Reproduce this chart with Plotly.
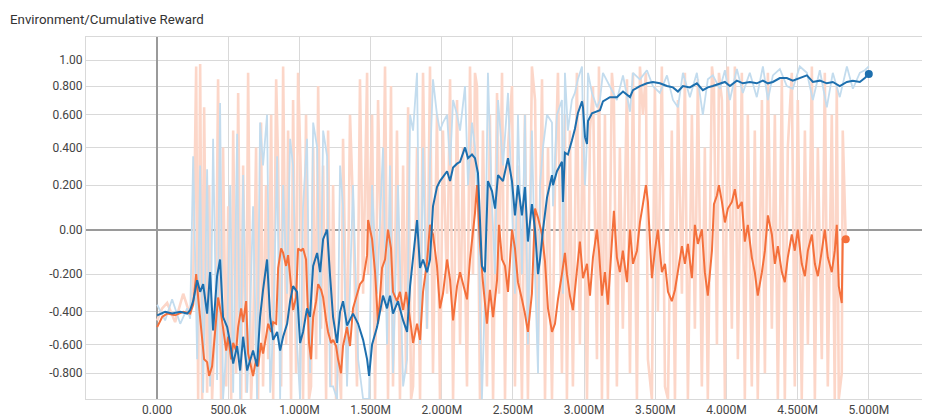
import numpy as np
import plotly.graph_objects as go

# ---------------- data (steps in thousands) ----------------
blue_steps = [
    0, 56, 105, 162, 211, 232, 253, 281, 302, 323,
    351, 372, 393, 421, 442, 463, 492, 513, 534, 562,
    583, 604, 632, 653, 674, 702, 723, 744, 772, 794,
    815, 843, 864, 885, 913, 934, 955, 983, 1004, 1025,
    1053, 1074, 1096, 1124, 1145, 1166, 1194, 1215, 1236, 1264,
    1285, 1306, 1334, 1376, 1412, 1447, 1475, 1489, 1510, 1545,
    1587, 1615, 1636, 1657, 1692, 1728, 1756, 1777, 1798, 1826,
    1847, 1868, 1896, 1917, 1938, 1966, 1987, 2008, 2037, 2058,
    2079, 2107, 2128, 2163, 2184, 2212, 2233, 2254, 2282, 2303,
    2324, 2353, 2374, 2395, 2430, 2465, 2493, 2514, 2535, 2563,
    2584, 2605, 2633, 2655, 2676, 2690, 2711, 2739, 2774, 2781,
    2809, 2844, 2851, 2865, 2886, 2914, 2935, 2956, 2985, 2992,
    3006, 3020, 3027, 3055, 3090, 3111, 3132, 3181, 3230, 3273,
    3322, 3343, 3392, 3441, 3483, 3532, 3582, 3624, 3659, 3694,
    3743, 3792, 3834, 3869, 3904, 3954, 3989, 4024, 4073, 4115,
    4164, 4213, 4256, 4291, 4326, 4375, 4424, 4466, 4515, 4565,
    4607, 4656, 4705, 4747, 4796, 4846, 4888, 4937, 4972, 5000,
]
blue_smooth = [
    -0.42, -0.40, -0.41, -0.40, -0.41, -0.39, -0.34, -0.23, -0.29, -0.25,
    -0.41, -0.19, -0.51, -0.21, -0.13, -0.43, -0.49, -0.59, -0.73, -0.61,
    -0.78, -0.55, -0.78, -0.71, -0.64, -0.75, -0.43, -0.28, -0.13, -0.43,
    -0.57, -0.52, -0.64, -0.55, -0.47, -0.34, -0.26, -0.29, -0.59, -0.52,
    -0.38, -0.43, -0.16, -0.10, -0.19, -0.04, 0.0, -0.21, -0.43, -0.59,
    -0.40, -0.34, -0.48, -0.41, -0.47, -0.57, -0.70, -0.82, -0.60, -0.49,
    -0.31, -0.38, -0.31, -0.41, -0.34, -0.45, -0.52, -0.26, -0.11, 0.04,
    -0.17, -0.13, -0.19, -0.13, 0.10, 0.19, 0.22, 0.24, 0.27, 0.22,
    0.29, 0.31, 0.32, 0.40, 0.34, 0.36, 0.34, 0.26, -0.16, -0.19,
    0.22, 0.17, 0.09, 0.25, 0.22, 0.34, 0.22, 0.06, 0.20, 0.06,
    0.19, -0.05, 0.11, 0.0, -0.20, -0.13, 0.0, 0.14, 0.25, 0.20,
    0.27, 0.32, 0.12, 0.37, 0.36, 0.44, 0.51, 0.61, 0.69, 0.65,
    0.46, 0.42, 0.56, 0.61, 0.62, 0.63, 0.69, 0.72, 0.72, 0.76,
    0.72, 0.77, 0.80, 0.82, 0.83, 0.82, 0.80, 0.79, 0.76, 0.80,
    0.79, 0.82, 0.77, 0.79, 0.80, 0.82, 0.83, 0.80, 0.84, 0.82,
    0.83, 0.82, 0.84, 0.82, 0.83, 0.86, 0.86, 0.84, 0.86, 0.88,
    0.83, 0.84, 0.82, 0.83, 0.80, 0.83, 0.84, 0.83, 0.86, 0.89,
]
blue_raw = [
    -0.36, -0.45, -0.33, -0.47, -0.38, -0.44, 0.35, -0.70, 0.30, -0.95,
    0.28, -0.90, 0.45, -0.85, 0.68, -1.0, -0.55, 0.20, -0.95, 0.48,
    -1.0, 0.25, -0.95, -0.4, 0.1, -1.0, 0.55, 0.30, 0.60, -0.95,
    -0.5, 0.35, -1.0, 0.20, -0.3, 0.45, 0.3, -0.6, -1.0, 0.1,
    0.45, -0.8, 0.55, 0.4, -0.6, 0.5, 0.35, -0.9, -0.9, -1.0,
    0.3, 0.1, -0.9, 0.2, -0.7, -1.0, -1.0, -1.0, 0.2, -0.3,
    0.4, -0.6, 0.3, -0.8, 0.2, -0.9, -0.7, 0.6, 0.5, 0.9,
    -0.6, 0.4, -0.5, 0.3, 0.85, 0.6, 0.5, 0.55, 0.6, 0.3,
    0.7, 0.6, 0.5, 0.8, 0.2, 0.55, 0.4, 0.1, -1.0, -0.3,
    0.9, 0.1, -0.2, 0.7, 0.3, 0.75, 0.1, -0.3, 0.6, -0.2,
    0.6, -0.6, 0.5, -0.2, -0.8, 0.2, 0.4, 0.6, 0.55, 0.1,
    0.6, 0.7, -0.3, 0.9, 0.5, 0.7, 0.75, 0.85, 0.95, 0.5,
    0.2, 0.45, 0.9, 0.75, 0.65, 0.7, 0.9, 0.8, 0.7, 0.88,
    0.62, 0.9, 0.85, 0.92, 0.8, 0.75, 0.88, 0.7, 0.65, 0.9,
    0.72, 0.9, 0.6, 0.85, 0.88, 0.78, 0.92, 0.7, 0.93, 0.75,
    0.9, 0.72, 0.95, 0.7, 0.88, 0.93, 0.8, 0.78, 0.95, 0.9,
    0.7, 0.92, 0.65, 0.9, 0.72, 0.95, 0.78, 0.9, 0.92, 0.95,
]

orange_steps = [
    0, 35, 70, 126, 183, 232, 253, 274, 288, 302,
    316, 330, 351, 365, 386, 414, 428, 449, 463, 485,
    499, 520, 534, 555, 569, 590, 604, 625, 639, 660,
    674, 695, 709, 730, 744, 765, 780, 801, 815, 836,
    850, 871, 885, 906, 920, 941, 955, 976, 990, 1011,
    1025, 1046, 1067, 1081, 1096, 1117, 1131, 1152, 1166, 1187,
    1201, 1222, 1236, 1257, 1271, 1292, 1306, 1334, 1355, 1376,
    1404, 1425, 1447, 1475, 1482, 1510, 1531, 1552, 1580, 1601,
    1622, 1643, 1657, 1685, 1706, 1728, 1749, 1763, 1784, 1798,
    1826, 1847, 1868, 1896, 1917, 1938, 1966, 1987, 2008, 2037,
    2058, 2079, 2107, 2128, 2149, 2177, 2198, 2219, 2233, 2247,
    2268, 2289, 2317, 2338, 2360, 2388, 2402, 2423, 2444, 2465,
    2493, 2514, 2535, 2563, 2584, 2605, 2633, 2655, 2676, 2704,
    2725, 2746, 2774, 2795, 2816, 2844, 2865, 2879, 2900, 2921,
    2949, 2970, 2992, 3020, 3041, 3062, 3090, 3104, 3125, 3146,
    3167, 3195, 3209, 3230, 3251, 3272, 3301, 3322, 3343, 3371,
    3392, 3413, 3434, 3448, 3476, 3497, 3518, 3546, 3568, 3589,
    3616, 3638, 3659, 3687, 3708, 3729, 3757, 3778, 3799, 3827,
    3848, 3869, 3898, 3912, 3933, 3947, 3968, 3989, 4010, 4038,
    4059, 4080, 4108, 4129, 4150, 4178, 4199, 4220, 4249, 4270,
    4291, 4319, 4340, 4361, 4389, 4410, 4431, 4459, 4480, 4501,
    4529, 4551, 4572, 4600, 4621, 4642, 4670, 4691, 4712, 4740,
    4761, 4775, 4789, 4810, 4817, 4838,
]
orange_smooth = [
    -0.49, -0.43, -0.41, -0.42, -0.40, -0.41, -0.36, -0.20, -0.32, -0.45,
    -0.59, -0.70, -0.72, -0.82, -0.75, -0.43, -0.32, -0.41, -0.51, -0.64,
    -0.55, -0.70, -0.59, -0.64, -0.49, -0.38, -0.46, -0.34, -0.66, -0.75,
    -0.82, -0.70, -0.75, -0.59, -0.66, -0.55, -0.47, -0.52, -0.46, -0.47,
    -0.17, -0.08, -0.10, -0.16, -0.11, -0.26, -0.39, -0.32, -0.08, -0.09,
    -0.08, -0.13, -0.59, -0.70, -0.43, -0.34, -0.25, -0.28, -0.32, -0.45,
    -0.52, -0.59, -0.57, -0.61, -0.70, -0.80, -0.61, -0.49, -0.61, -0.38,
    -0.31, -0.25, -0.23, -0.11, 0.04, -0.04, -0.19, -0.47, -0.17, -0.13,
    0.0, -0.08, -0.29, -0.34, -0.29, -0.39, -0.29, -0.38, -0.49, -0.59,
    -0.47, -0.57, -0.29, -0.14, 0.02, -0.02, -0.16, -0.38, -0.30, -0.13,
    -0.23, -0.45, -0.26, -0.19, -0.25, -0.33, -0.13, 0.0, 0.07, 0.20,
    -0.06, -0.24, -0.47, -0.28, -0.43, -0.23, 0.02, -0.13, -0.16, -0.29,
    0.0, -0.08, -0.24, -0.33, -0.41, -0.52, -0.30, 0.09, 0.05, -0.02,
    -0.14, -0.38, -0.52, -0.47, -0.33, -0.20, -0.10, -0.20, -0.31, -0.39,
    -0.17, -0.05, -0.22, -0.15, -0.31, -0.12, 0.0, -0.09, -0.31, -0.19,
    -0.36, -0.02, 0.08, -0.12, -0.19, -0.09, -0.24, 0.0, -0.15, -0.09,
    0.03, 0.11, 0.20, 0.12, -0.22, -0.09, 0.0, -0.19, -0.15, -0.29,
    -0.34, -0.28, -0.19, -0.07, -0.15, -0.06, -0.22, 0.02, -0.06, 0.0,
    -0.19, -0.31, -0.09, 0.11, 0.15, 0.20, 0.12, 0.03, 0.09, 0.12,
    0.18, 0.09, 0.12, -0.05, 0.02, -0.12, -0.19, -0.31, -0.19, -0.09,
    0.06, -0.02, -0.15, -0.07, -0.19, -0.24, -0.12, -0.02, -0.09, 0.0,
    -0.15, -0.21, -0.09, -0.02, -0.15, -0.21, -0.09, 0.0, -0.12, -0.19,
    -0.09, 0.02, -0.26, -0.35, -0.04, -0.04,
]
orange_raw = [
    -0.45, -0.38, -0.35, -0.46, -0.30, -0.42, -0.25, 0.95, -1.0, 0.97,
    -1.0, 0.65, -0.95, 0.2, -1.0, -0.3, 0.85, -1.0, 0.4, -0.9,
    0.1, -1.0, 0.5, -0.8, 0.75, -1.0, 0.3, -0.95, 0.9, -1.0,
    -0.6, 0.4, -1.0, 0.55, -0.9, 0.2, -0.7, 0.6, -1.0, 0.85,
    0.3, -0.9, 0.95, -0.6, 0.5, -1.0, 0.7, -0.8, 0.9, 0.2,
    -1.0, 0.6, -1.0, -0.9, 0.4, -0.7, 0.8, -0.5, 0.3, -1.0,
    0.5, -0.9, 0.2, -1.0, -0.6, -1.0, 0.45, -0.8, 0.6, 0.1,
    -0.9, 0.85, -0.3, 0.9, -0.2, 0.6, -1.0, 0.7, -0.4, 0.95,
    -1.0, 0.8, -0.9, 0.5, -1.0, 0.3, -0.8, 0.65, -1.0, -0.9,
    0.4, -1.0, 0.9, -0.5, 0.95, -0.8, 0.6, -1.0, 0.5, -0.3,
    0.85, -1.0, 0.7, -0.6, 0.4, -0.9, 0.95, -0.2, 0.9, 0.8,
    -1.0, 0.5, -0.9, 0.6, -1.0, 0.75, -0.3, 0.9, -1.0, 0.4,
    0.8, -0.9, 0.3, -1.0, 0.6, -1.0, 0.95, 0.7, -0.6, 0.85,
    -1.0, 0.4, -1.0, 0.2, 0.9, -0.8, 0.6, -1.0, 0.5, -0.9,
    0.9, -0.6, 0.7, -1.0, 0.5, 0.8, -0.7, 0.95, -1.0, 0.6,
    -1.0, 0.9, 0.7, -0.9, 0.4, -0.5, 0.85, -0.8, 0.9, -1.0,
    0.95, 0.6, 0.9, -0.7, -1.0, 0.8, -0.4, 0.95, -0.9, -1.0,
    0.5, -1.0, 0.7, -0.3, 0.9, -1.0, 0.6, -0.5, 0.85, -0.9,
    0.4, -1.0, 0.95, 0.8, -0.6, 0.9, 0.7, -1.0, 0.95, -0.5,
    0.95, -0.7, 0.9, -1.0, 0.6, -0.9, 0.5, -1.0, 0.7, -0.8,
    0.9, -0.5, 0.6, -1.0, 0.85, -1.0, 0.4, 0.9, -0.9, 0.7,
    -1.0, 0.5, -0.6, 0.95, -1.0, 0.4, -0.7, 0.9, -0.9, 0.6,
    -1.0, 0.8, -1.0, -0.8, 0.5, -0.04,
]

x_tick_vals = [0, 500, 1000, 1500, 2000, 2500, 3000, 3500, 4000, 4500, 5000]
x_tick_text = ["0.000", "500.0k", "1.000M", "1.500M", "2.000M", "2.500M",
               "3.000M", "3.500M", "4.000M", "4.500M", "5.000M"]
y_tick_vals = [1.0, 0.8, 0.6, 0.4, 0.2, 0.0, -0.2, -0.4, -0.6, -0.8]
y_tick_text = ["1.00", "0.800", "0.600", "0.400", "0.200", "0.00",
               "-0.200", "-0.400", "-0.600", "-0.800"]

title_text = "Environment/Cumulative Reward"

# ---------------- helpers ----------------
def scale(v):
    v = np.asarray(v, dtype=float)
    return np.sign(v) * np.log1p(np.abs(v))

def steps(s):
    return np.asarray(s, dtype=float) * 1000.0

BLUE = "#1d6fae"
ORANGE = "#f4703c"
BLUE_RAW = "#c3dcee"
ORANGE_RAW = "#fcd6c8"

# the page body has an 8px margin, so the figure is sized/offset to compensate
W, H, OFF = 922, 409, 8

fig = go.Figure()
fig.add_trace(go.Scatter(x=steps(orange_steps), y=scale(orange_raw), mode="lines",
                         line=dict(color=ORANGE_RAW, width=2.6), hoverinfo="skip"))
fig.add_trace(go.Scatter(x=steps(blue_steps), y=scale(blue_raw), mode="lines",
                         line=dict(color=BLUE_RAW, width=1.8), hoverinfo="skip"))
fig.add_trace(go.Scatter(x=steps(orange_steps), y=scale(orange_smooth), mode="lines",
                         line=dict(color=ORANGE, width=2)))
fig.add_trace(go.Scatter(x=steps(blue_steps), y=scale(blue_smooth), mode="lines",
                         line=dict(color=BLUE, width=2)))
fig.add_trace(go.Scatter(x=steps(orange_steps[-1:]), y=scale(orange_smooth[-1:]), mode="markers",
                         marker=dict(color=ORANGE, size=8)))
fig.add_trace(go.Scatter(x=steps(blue_steps[-1:]), y=scale(blue_smooth[-1:]), mode="markers",
                         marker=dict(color=BLUE, size=8)))

fig.update_layout(
    width=W, height=H,
    margin=dict(l=86 - OFF, r=0, t=37 - OFF, b=21 - OFF, pad=0),
    paper_bgcolor="white", plot_bgcolor="white",
    showlegend=False,
    font=dict(family="Roboto, 'Open Sans', sans-serif", size=12, color="#444"),
    title=dict(text=title_text, xref="container", yref="container",
               x=(10 - OFF) / W, xanchor="left", y=1 - (19 - OFF) / H, yanchor="middle",
               font=dict(size=13.3, color="#333")),
    xaxis=dict(range=[-500000, 5430000], tickvals=steps(x_tick_vals), ticktext=x_tick_text,
               showgrid=True, gridcolor="#d9d9d9", gridwidth=1,
               zeroline=True, zerolinecolor="#9a9a9a", zerolinewidth=1.5,
               showline=True, linecolor="#d9d9d9", mirror=True, ticks="",
               tickfont=dict(size=12, color="#444")),
    yaxis=dict(range=[float(scale(-1.0)), float(scale(1.2))],
               tickvals=scale(y_tick_vals), ticktext=y_tick_text,
               showgrid=True, gridcolor="#d9d9d9", gridwidth=1,
               zeroline=True, zerolinecolor="#9a9a9a", zerolinewidth=1.5,
               showline=True, linecolor="#d9d9d9", ticks="",
               tickfont=dict(size=12, color="#444")),
)

fig.write_html("out.html", config={"displayModeBar": False})
